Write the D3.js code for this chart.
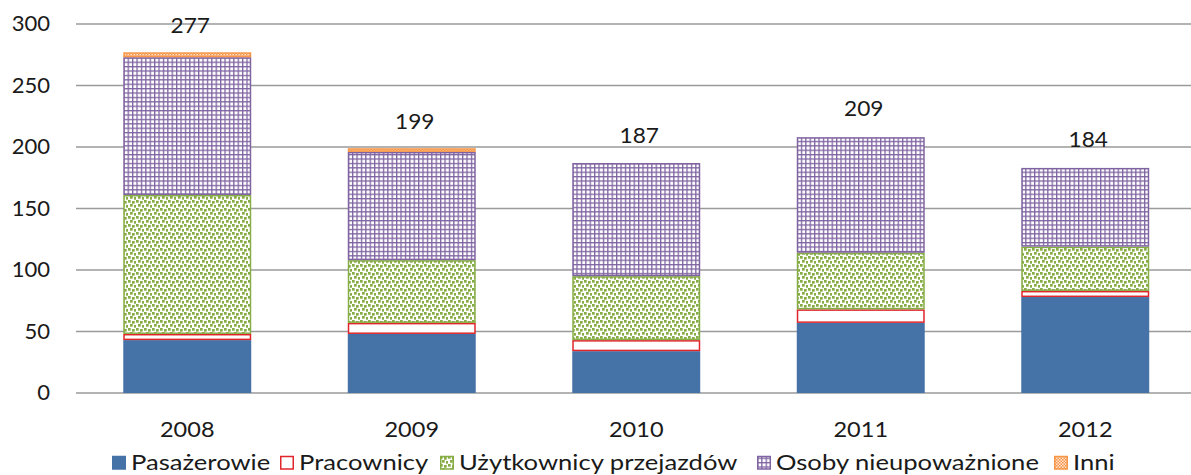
<!DOCTYPE html>
<html>
<head>
<meta charset="utf-8">
<script src="https://cdn.jsdelivr.net/npm/d3@7"></script>
<style>
  body { margin: 0; background: #fff; }
  svg text { font-family: Lato, "Noto Sans", sans-serif; fill: #1a1a1a; }
</style>
</head>
<body>
<div id="chart"></div>
<script>
const years = ["2008", "2009", "2010", "2011", "2012"];
const seriesNames = ["Pasażerowie", "Pracownicy", "Użytkownicy przejazdów", "Osoby nieupoważnione", "Inni"];
const pasazerowie = [43, 48, 34, 57, 78];
const pracownicy = [5, 9, 9, 11, 5];
const uzytkownicy = [113, 51, 52, 46, 36];
const osoby = [112, 88, 92, 94, 64];
const inni = [4, 3, 0, 1, 1];
const totals = [277, 199, 187, 209, 184];
const yTicks = [0, 50, 100, 150, 200, 250, 300];

const width = 1191, height = 475;
const svg = d3.select("#chart").append("svg")
    .attr("width", width)
    .attr("height", height);

// wzory wypełnienia
const defs = svg.append("defs");
const purple = "#8064A2", green = "#86AC45", orange = "#F79646", red = "#E0262B", blue = "#4572A7";

const pGrid = defs.append("pattern").attr("id", "grid")
    .attr("patternUnits", "userSpaceOnUse").attr("width", 4.4).attr("height", 4.4);
pGrid.append("rect").attr("width", 4.4).attr("height", 4.4).attr("fill", "#fff");
pGrid.append("rect").attr("width", 1.3).attr("height", 4.4).attr("fill", purple);
pGrid.append("rect").attr("width", 4.4).attr("height", 1.3).attr("fill", purple);

const pDots = defs.append("pattern").attr("id", "dots")
    .attr("patternUnits", "userSpaceOnUse").attr("width", 8).attr("height", 8);
pDots.append("rect").attr("width", 8).attr("height", 8).attr("fill", "#fff");
[[0, 0], [4, 1], [2, 4], [6, 5]].forEach(p => {
    pDots.append("rect").attr("x", p[0]).attr("y", p[1]).attr("width", 2.7).attr("height", 2.7).attr("fill", green);
});

const pCheck = defs.append("pattern").attr("id", "check")
    .attr("patternUnits", "userSpaceOnUse").attr("width", 3).attr("height", 3);
pCheck.append("rect").attr("width", 3).attr("height", 3).attr("fill", "#fde3cf");
pCheck.append("rect").attr("width", 1.5).attr("height", 1.5).attr("fill", orange);
pCheck.append("rect").attr("x", 1.5).attr("y", 1.5).attr("width", 1.5).attr("height", 1.5).attr("fill", orange);

const fills = [blue, "#fff", "url(#dots)", "url(#grid)", "url(#check)"];
const strokes = [blue, red, green, purple, orange];

const x = d3.scaleBand().domain(years).range([75, 1197.5]).paddingInner(0.43).paddingOuter(0.215);
const y = d3.scaleLinear().domain([0, 300]).range([393, 24]);

// linie siatki
svg.append("g").selectAll("line").data(yTicks).join("line")
    .attr("x1", 76).attr("x2", width)
    .attr("y1", d => y(d)).attr("y2", d => y(d))
    .attr("stroke", "#9a9a9a").attr("stroke-width", 1.5);

// tekst rozciągnięty poziomo jak w oryginale
function label(g, xPos, yPos, txt, anchor, sx) {
    return g.append("text")
        .attr("transform", `translate(${xPos},${yPos}) scale(${sx},1)`)
        .attr("dy", "0.35em")
        .attr("text-anchor", anchor)
        .attr("font-size", 21)
        .text(txt);
}

const yLab = svg.append("g");
yTicks.forEach(t => label(yLab, 50, y(t), t, "end", 1.05));

// słupki
const rows = years.map((yr, i) => ({
    year: yr,
    s0: pasazerowie[i], s1: pracownicy[i], s2: uzytkownicy[i], s3: osoby[i], s4: inni[i]
}));
const stack = d3.stack().keys(["s0", "s1", "s2", "s3", "s4"])(rows);

svg.append("g").selectAll("g").data(stack).join("g")
    .each(function (layer, k) {
        d3.select(this).selectAll("rect").data(layer.filter(d => d[1] - d[0] > 0)).join("rect")
            .attr("x", d => x(d.data.year) + 0.75)
            .attr("width", x.bandwidth() - 1.5)
            .attr("y", d => y(d[1]) + 0.75)
            .attr("height", d => Math.max(0, y(d[0]) - y(d[1]) - 1.5))
            .attr("fill", fills[k])
            .attr("stroke", strokes[k])
            .attr("stroke-width", 1.5);
    });

// sumy nad słupkami
const totLab = svg.append("g");
years.forEach((yr, i) => label(totLab, x(yr) + x.bandwidth() / 2 + 3, y(totals[i]) - 27, totals[i], "middle", 1.08));

// etykiety osi X
const xLab = svg.append("g");
years.forEach(yr => label(xLab, x(yr) + x.bandwidth() / 2, 430, yr, "middle", 1.12));

// legenda
const legendX = [112, 280, 440, 757, 1054];
const legend = svg.append("g");
seriesNames.forEach((name, i) => {
    legend.append("rect")
        .attr("x", legendX[i] + 0.75).attr("y", 456.5).attr("width", 12.5).attr("height", 12.5)
        .attr("fill", fills[i]).attr("stroke", strokes[i]).attr("stroke-width", 1.5);
    label(legend, legendX[i] + 19, 463, name, "start", 1.22);
});
</script>
</body>
</html>
